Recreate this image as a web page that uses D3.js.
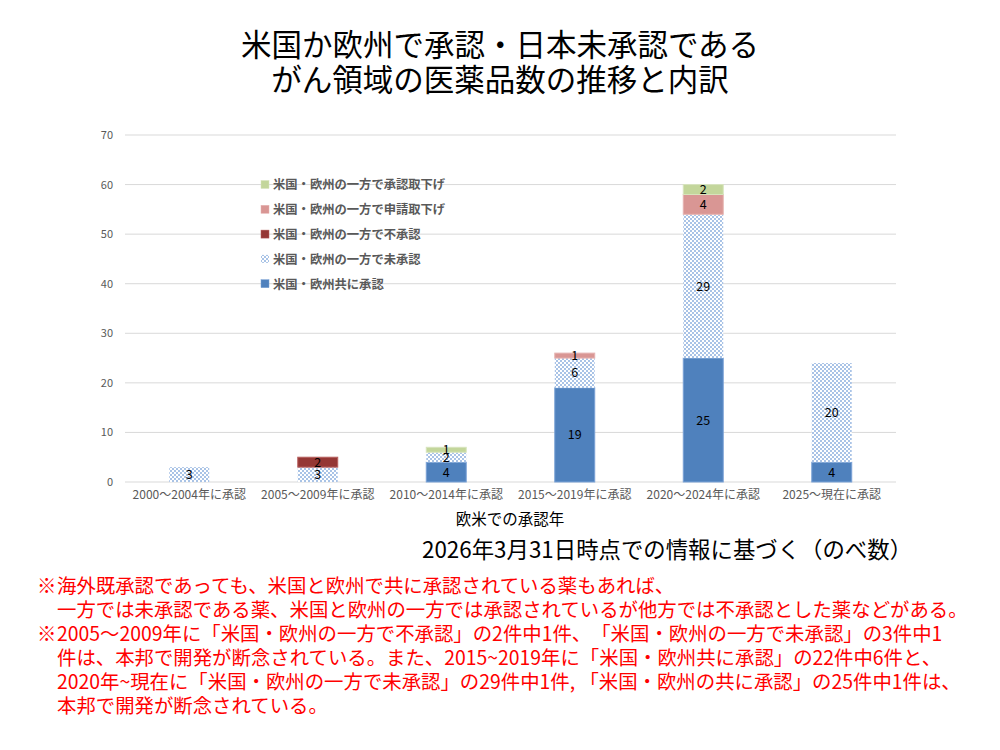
<!DOCTYPE html>
<html><head><meta charset="utf-8">
<script src="https://cdn.jsdelivr.net/npm/d3@7"></script>
<style>
html,body{margin:0;padding:0;background:#fff;}
svg text{font-family:"Noto Sans CJK JP","Noto Sans",sans-serif;text-spacing-trim:space-all;}
</style></head>
<body>
<svg id="c" width="1000" height="750"></svg>
<script>
const categories = ["2000〜2004年に承認","2005〜2009年に承認","2010〜2014年に承認","2015〜2019年に承認","2020〜2024年に承認","2025〜現在に承認"];
const seriesNames = ["米国・欧州共に承認","米国・欧州の一方で未承認","米国・欧州の一方で不承認","米国・欧州の一方で申請取下げ","米国・欧州の一方で承認取下げ"];
const bothApproved   = [0,0,4,19,25,4];
const oneUnapproved  = [3,3,2,6,29,20];
const oneRejected    = [0,2,0,0,0,0];
const oneAppWithdrawn= [0,0,0,1,4,0];
const oneApprWithdrawn=[0,0,1,0,2,0];
const yTicks = [0,10,20,30,40,50,60,70];
const titleLines = ["米国か欧州で承認・日本未承認である","がん領域の医薬品数の推移と内訳"];
const xTitle = "欧米での承認年";
const dateNote = "2026年3月31日時点での情報に基づく（のべ数）";
const notes = [
  ["※","海外既承認であっても、米国と欧州で共に承認されている薬もあれば、"],
  ["","一方では未承認である薬、米国と欧州の一方では承認されているが他方では不承認とした薬などがある。"],
  ["※","2005〜2009年に「米国・欧州の一方で不承認」の2件中1件、「米国・欧州の一方で未承認」の3件中1"],
  ["","件は、本邦で開発が断念されている。また、2015~2019年に「米国・欧州共に承認」の22件中6件と、"],
  ["","2020年~現在に「米国・欧州の一方で未承認」の29件中1件, 「米国・欧州の共に承認」の25件中1件は、"],
  ["","本邦で開発が断念されている。"]
];

const seriesValues = [bothApproved, oneUnapproved, oneRejected, oneAppWithdrawn, oneApprWithdrawn];
const fills = ["#4F81BD","url(#hatch)","#953735","#D99694","#C3D69B"];
const strokes = ["#7aa2d6","none","#b8605e","#e6b3b1","#d7e4bd"];

const svg = d3.select("#c");
const defs = svg.append("defs");
const pat = defs.append("pattern").attr("id","hatch").attr("patternUnits","userSpaceOnUse")
  .attr("width",4).attr("height",4);
pat.append("rect").attr("width",4).attr("height",4).attr("fill","#ffffff");
pat.append("rect").attr("x",0).attr("y",0).attr("width",2).attr("height",2).attr("fill","#a9c3e6");
pat.append("rect").attr("x",2).attr("y",2).attr("width",2).attr("height",2).attr("fill","#a9c3e6");

// title
svg.append("g").selectAll("text").data(titleLines).join("text")
  .attr("x",500).attr("y",(d,i)=>56+i*35).attr("text-anchor","middle")
  .attr("font-size",30.5).attr("fill","#000").text(d=>d);

const x = d3.scaleBand().domain(categories).range([125,896]).padding(0);
const y = d3.scaleLinear().domain([0,70]).range([482,135]);
const barW = x.bandwidth()*0.311;

// gridlines
svg.append("g").selectAll("line").data(yTicks).join("line")
  .attr("x1",125).attr("x2",896).attr("y1",d=>y(d)).attr("y2",d=>y(d))
  .attr("stroke","#d9d9d9").attr("stroke-width",1);

// y axis labels
const yAxis = d3.axisLeft(y).tickValues(yTicks).tickSize(0).tickPadding(0);
const gy = svg.append("g").attr("transform","translate(113,0)").call(yAxis);
gy.select(".domain").remove();
gy.selectAll("text").attr("font-size",11).attr("fill","#595959")
  .attr("font-family","'Noto Sans','Noto Sans CJK JP',sans-serif");

// x axis labels
const xAxis = d3.axisBottom(x).tickSize(0).tickPadding(0);
const gx = svg.append("g").attr("transform","translate(0,490)").call(xAxis);
gx.select(".domain").remove();
gx.selectAll("text").attr("font-size",12).attr("fill","#595959")
  .attr("font-family","'Noto Sans CJK JP',sans-serif");

// stacked data
const table = categories.map((c,i)=>{
  const o = {cat:c};
  seriesNames.forEach((s,j)=>o[s]=seriesValues[j][i]);
  return o;
});
const stack = d3.stack().keys(seriesNames)(table);

const gBars = svg.append("g");
stack.forEach((layer,j)=>{
  const g = gBars.append("g");
  g.selectAll("rect").data(layer.filter(d=>d[1]-d[0]>0)).join("rect")
    .attr("x",d=>x(d.data.cat)+x.bandwidth()/2-barW/2)
    .attr("y",d=>y(d[1]))
    .attr("width",barW)
    .attr("height",d=>y(d[0])-y(d[1]))
    .attr("fill",fills[j])
    .attr("stroke",strokes[j]).attr("stroke-width",1);
});
stack.forEach((layer,j)=>{
  gBars.append("g").selectAll("text").data(layer.filter(d=>d[1]-d[0]>0)).join("text")
    .attr("x",d=>x(d.data.cat)+x.bandwidth()/2)
    .attr("y",d=>(y(d[0])+y(d[1]))/2)
    .attr("dy","0.36em")
    .attr("text-anchor","middle")
    .attr("font-size",12.5).attr("fill","#000")
    .attr("font-family","'Open Sans','Noto Sans',sans-serif")
    .text(d=>d[1]-d[0]);
});

// legend (reverse order: top = last series)
const legendOrder = [4,3,2,1,0];
const lg = svg.append("g");
legendOrder.forEach((j,k)=>{
  const cy = 185 + k*24.8;
  lg.append("rect").attr("x",261).attr("y",cy-4.5).attr("width",8).attr("height",8)
    .attr("fill",fills[j]).attr("stroke",j===1?"none":strokes[j]).attr("stroke-width",0.5);
  lg.append("text").attr("x",273).attr("y",cy).attr("dy","0.36em")
    .attr("font-size",12.3).attr("fill","#595959").attr("font-weight",600)
    .text(seriesNames[j]);
});

// x title
svg.append("text").attr("x",510).attr("y",525).attr("text-anchor","middle")
  .attr("font-size",15.5).attr("fill","#000").text(xTitle);

// date note
svg.append("text").attr("x",422).attr("y",558).attr("font-size",22.4).attr("fill","#000").text(dateNote);

// red notes
const ng = svg.append("g");
notes.forEach((n,i)=>{
  const yy = 593 + i*24;
  if(n[0]) ng.append("text").attr("x",37).attr("y",yy).attr("font-size",19.4).attr("fill","#ff0000").text(n[0]);
  ng.append("text").attr("x",57).attr("y",yy).attr("font-size",19.4).attr("fill","#ff0000").text(n[1]);
});
</script>
</body></html>
